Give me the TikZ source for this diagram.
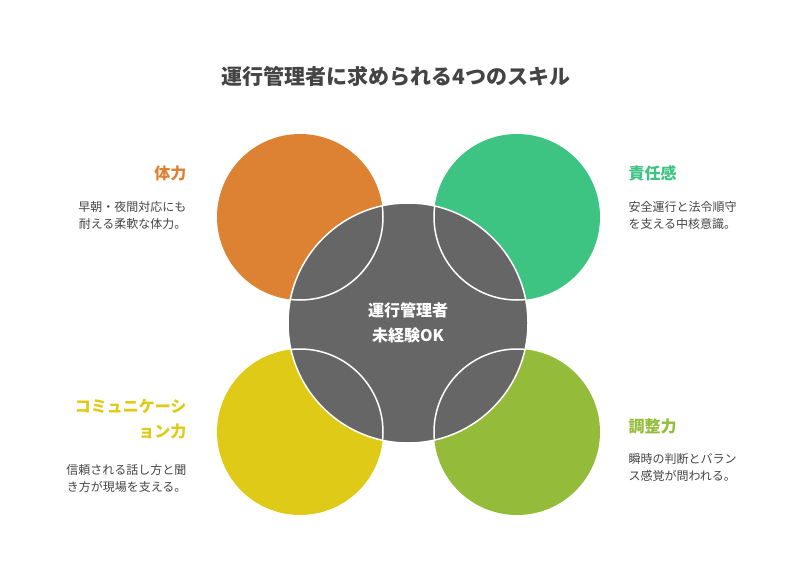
\documentclass[tikz,border=0pt]{standalone}
\usepackage{fontspec}
\setmainfont{Noto Sans CJK JP}
\definecolor{corange}{HTML}{DD8232}
\definecolor{cgreen}{HTML}{3DC482}
\definecolor{cyellow}{HTML}{DFCB17}
\definecolor{clime}{HTML}{94BC3A}
\definecolor{cgray}{HTML}{666666}
\definecolor{ctext}{HTML}{444444}
\begin{document}
\begin{tikzpicture}[x=1pt,y=-1pt,
  head/.style={font=\fontsize{16}{19}\selectfont\bfseries},
  desc/.style={font=\fontsize{12}{17}\selectfont, text=ctext},
  ring/.style={draw=white, line width=1.5pt}]
\useasboundingbox (0,0) rectangle (792,564);
\node[font=\fontsize{21}{25}\selectfont\bfseries, text=ctext] (title) at (396,76) {運行管理者に求められる4つのスキル};
\fill[corange] (300,217) circle (83);
\fill[cgreen] (517,217) circle (83);
\fill[cyellow] (300,432) circle (83);
\fill[clime] (517,432) circle (83);
\filldraw[fill=cgray, ring] (408,323) circle (120);
\begin{scope}
\clip (408,323) circle (120);
\draw[ring] (300,217) circle (83) (517,217) circle (83) (300,432) circle (83) (517,432) circle (83);
\end{scope}
\node[head, text=white, align=center, font=\fontsize{16}{25}\selectfont\bfseries] (c) at (408,323) {運行管理者\\未経験OK};
\node[head, text=corange, anchor=east] (h1) at (190,173) {体力};
\node[desc, anchor=north east, align=right] (d1) at (190,198) {早朝・夜間対応にも\\耐える柔軟な体力。};
\node[head, text=cgreen, anchor=west] (h2) at (625,173) {責任感};
\node[desc, anchor=north west, align=left] (d2) at (625,198) {安全運行と法令順守\\を支える中核意識。};
\node[head, text=cyellow, anchor=north east, align=right, font=\fontsize{16}{25}\selectfont\bfseries] (h3) at (190,396) {コミュニケーシ\\ョン力};
\node[desc, anchor=north east, align=right] (d3) at (190,461) {信頼される話し方と聞\\き方が現場を支える。};
\node[head, text=clime, anchor=west] (h4) at (625,426) {調整力};
\node[desc, anchor=north west, align=left] (d4) at (625,450) {瞬時の判断とバラン\\ス感覚が問われる。};
\end{tikzpicture}
\end{document}
